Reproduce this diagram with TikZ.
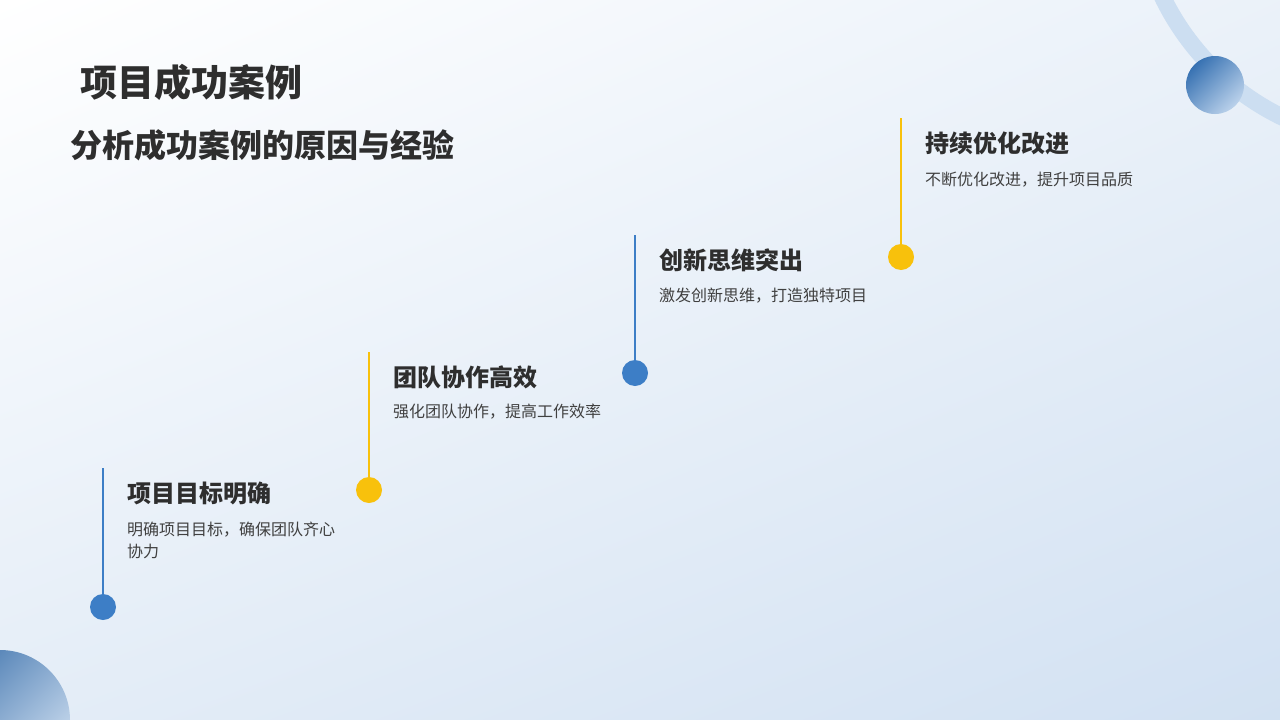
\documentclass[tikz,border=0pt]{standalone}
\usepackage{fontspec}
\setmainfont{Noto Sans CJK SC}
\newfontfamily\cjk{Noto Sans CJK SC}
\usepackage{tikz}
\usetikzlibrary{positioning, shadings}

\definecolor{stepblue}{HTML}{3D7EC6}
\definecolor{stepyellow}{HTML}{F8C10C}
\definecolor{textdark}{HTML}{2E2E2E}
\definecolor{textbody}{HTML}{404040}
\definecolor{bgcorner}{HTML}{D2E1F2}
\definecolor{ringblue}{HTML}{CCDEF1}

\tikzset{
  stepdot/.style={circle, inner sep=0pt, minimum size=26pt},
  stepline/.style={line width=2pt},
  heading/.style={anchor=west, inner sep=0pt, text=textdark, font=\cjk\bfseries\fontsize{24}{28}\selectfont},
  bodytext/.style={anchor=north west, inner sep=0pt, text=textbody, align=left, font=\cjk\fontsize{16}{22}\selectfont},
}

\begin{document}
\begin{tikzpicture}[x=1pt, y=-1pt]
    % background
    \shade[upper left=white, upper right=bgcorner!45, lower left=bgcorner!60, lower right=bgcorner]
        (0,0) rectangle (1280,720);
    \useasboundingbox (0,0) rectangle (1280,720);

    % corner decorations
    \begin{scope}
        \clip (0,0) rectangle (1280,720);
        \draw[ringblue, line width=17pt] (1395,-115) circle (258);
        \shade[left color=stepblue!85!black!90, right color=stepblue!25, shading angle=45]
            (0,720) circle (70);
    \end{scope}
    \shade[left color=stepblue!90!black, right color=stepblue!35, shading angle=45]
        (1215,85) circle (29);

    % titles
    \node[anchor=west, inner sep=0pt, text=textdark, font=\cjk\bfseries\fontsize{37}{40}\selectfont] (title) at (80,82) {项目成功案例};
    \node[anchor=west, inner sep=0pt, text=textdark, font=\cjk\bfseries\fontsize{32}{36}\selectfont] (subtitle) at (70,145) {分析成功案例的原因与经验};

    % step 1
    \node[stepdot, fill=stepblue] (d1) at (103,607) {};
    \coordinate (t1) at (103,468);
    \draw[stepline, stepblue] (t1) -- (d1);
    \node[heading] (h1) at (127,493) {项目目标明确};
    \node[bodytext] (b1) at (127,522) {明确项目目标，确保团队齐心\\协力};

    % step 2
    \node[stepdot, fill=stepyellow] (d2) at (369,490) {};
    \coordinate (t2) at (369,352);
    \draw[stepline, stepyellow] (t2) -- (d2);
    \node[heading] (h2) at (393,377) {团队协作高效};
    \node[bodytext] (b2) at (393,404) {强化团队协作，提高工作效率};

    % step 3
    \node[stepdot, fill=stepblue] (d3) at (635,373) {};
    \coordinate (t3) at (635,235);
    \draw[stepline, stepblue] (t3) -- (d3);
    \node[heading] (h3) at (659,260) {创新思维突出};
    \node[bodytext] (b3) at (659,288) {激发创新思维，打造独特项目};

    % step 4
    \node[stepdot, fill=stepyellow] (d4) at (901,257) {};
    \coordinate (t4) at (901,118);
    \draw[stepline, stepyellow] (t4) -- (d4);
    \node[heading] (h4) at (925,143) {持续优化改进};
    \node[bodytext] (b4) at (925,172) {不断优化改进，提升项目品质};
\end{tikzpicture}
\end{document}
